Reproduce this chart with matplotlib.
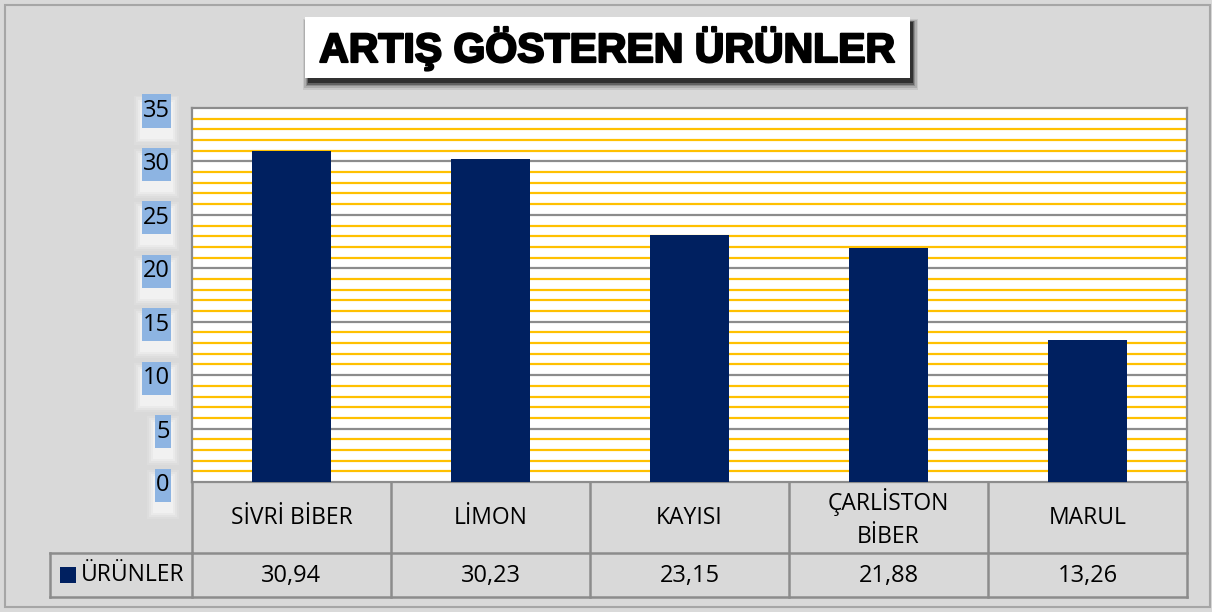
import matplotlib
matplotlib.use("Agg")
import matplotlib.pyplot as plt
import matplotlib.transforms as mtransforms
import matplotlib.patheffects as pe
from matplotlib.patches import Rectangle
import numpy as np

categories = ["SİVRİ BİBER", "LİMON", "KAYISI", "ÇARLİSTON\nBİBER", "MARUL"]
values = [30.94, 30.23, 23.15, 21.88, 13.26]
value_labels = ["30,94", "30,23", "23,15", "21,88", "13,26"]
series_name = "ÜRÜNLER"
title = "ARTIŞ GÖSTEREN ÜRÜNLER"
yticks = [0, 5, 10, 15, 20, 25, 30, 35]

W, H = 1212, 612
BG = "#D9D9D9"
NAVY = "#002060"
GOLD = "#FFC000"
GRID = "#8C8C8C"

fig = plt.figure(figsize=(W / 100, H / 100), dpi=100)
fig.patch.set_facecolor(BG)

def fx(px):
    return px / W

def fy(py):
    return 1 - py / H

# outer border
fig.add_artist(Rectangle((fx(5), fy(607)), fx(1205), 602 / H, transform=fig.transFigure,
                         fill=False, edgecolor="#A6A6A6", lw=1.5))

ax_l, ax_r, ax_t, ax_b = 192, 1187, 108, 482
ax = fig.add_axes([fx(ax_l), fy(ax_b), fx(ax_r - ax_l), (ax_b - ax_t) / H])
ax.set_facecolor("white")

x = np.arange(len(categories))
ax.set_xlim(-0.5, len(categories) - 0.5)
ax.set_ylim(0, 35)

# gridlines
for v in range(1, 35):
    ax.axhline(v, color=GRID if v % 5 == 0 else GOLD, lw=1.6, zorder=1)

ax.bar(x, values, width=0.4, color=NAVY, zorder=3)

for s in ax.spines.values():
    s.set_color(GRID)
    s.set_linewidth(1.6)
ax.set_xticks([])
ax.set_yticks(yticks)
ax.set_yticklabels([str(t) for t in yticks], fontsize=17, family="Open Sans", color="black")
ax.tick_params(axis="y", length=0, pad=16)

# blue label boxes with a white glow beneath
fig.canvas.draw()
renderer = fig.canvas.get_renderer()
for lab in ax.get_yticklabels():
    bb = lab.get_window_extent(renderer)
    cy = (bb.y0 + bb.y1) / 2
    bx0, bx1 = bb.x0 - 1, bb.x1 + 1
    by0, by1 = cy - 16.5, cy + 16.5
    for k, a in enumerate([0.12, 0.18, 0.25, 0.35]):
        g = 8 - 2 * k
        fig.add_artist(Rectangle(((bx0 - g) / W, (by0 - 9 - g) / H),
                                 (bx1 - bx0 + 2 * g) / W, (by1 - by0 + 2 * g) / H,
                                 transform=fig.transFigure, facecolor="white",
                                 edgecolor="none", alpha=a, zorder=-2))
    fig.add_artist(Rectangle((bx0 / W, by0 / H), (bx1 - bx0) / W, (by1 - by0) / H,
                             transform=fig.transFigure, facecolor="#8DB4E2",
                             edgecolor="none", zorder=-1))

# data table
trans = mtransforms.blended_transform_factory(ax.transData, fig.transFigure)
row_top, row_mid, row_bot = 482, 553, 597
leg_left = 50
lc = "#8C8C8C"
lw = 1.8
fig.add_artist(plt.Line2D([-0.5, len(categories) - 0.5], [fy(row_mid)] * 2, transform=trans,
                          color=lc, lw=lw))
fig.add_artist(plt.Line2D([fx(leg_left), fx(ax_r)], [fy(row_bot)] * 2, transform=fig.transFigure,
                          color=lc, lw=lw))
fig.add_artist(plt.Line2D([fx(leg_left), fx(ax_l)], [fy(row_mid)] * 2, transform=fig.transFigure,
                          color=lc, lw=lw))
fig.add_artist(plt.Line2D([fx(leg_left)] * 2, [fy(row_mid), fy(row_bot)], transform=fig.transFigure,
                          color=lc, lw=lw))
for i in range(len(categories) + 1):
    fig.add_artist(plt.Line2D([i - 0.5] * 2, [fy(row_top), fy(row_bot)], transform=trans,
                              color=lc, lw=lw))
for i, (c, v) in enumerate(zip(categories, value_labels)):
    fig.text(i, fy((row_top + row_mid) / 2 + 1), c, transform=trans, ha="center", va="center",
             fontsize=16.5, family="Open Sans", linespacing=1.45)
    fig.text(i, fy((row_mid + row_bot) / 2 + 1), v, transform=trans, ha="center", va="center",
             fontsize=17, family="Open Sans")
fig.add_artist(Rectangle((fx(60), fy(583)), fx(16), 16 / H, transform=fig.transFigure,
                         facecolor=NAVY, edgecolor="none"))
fig.text(fx(81), fy(575), series_name, ha="left", va="center", fontsize=16.5, family="Open Sans")

# title box with shadow
tx0, tx1, ty0, ty1 = 305, 910, 17, 78
for k, a in enumerate([0.08, 0.12, 0.18, 0.3, 0.5]):
    off = 7 - k * 0.5
    grow = (4 - k) * 1.2
    fig.add_artist(Rectangle((fx(tx0 + 3 - grow), fy(ty1 + off + grow)),
                             fx(tx1 - tx0 + 2 * grow), (ty1 - ty0 + 2 * grow) / H,
                             transform=fig.transFigure, facecolor="black", edgecolor="none",
                             alpha=a))
fig.add_artist(Rectangle((fx(tx0), fy(ty1)), fx(tx1 - tx0), (ty1 - ty0) / H,
                         transform=fig.transFigure, facecolor="white", edgecolor="none"))
fig.text(fx((tx0 + tx1) / 2), fy((ty0 + ty1) / 2 + 1), title, ha="center", va="center",
         fontsize=29.5, fontweight="heavy", family="Liberation Sans",
         path_effects=[pe.withStroke(linewidth=1.6, foreground="black")])

fig.savefig("out.png", dpi=100, facecolor=fig.get_facecolor())
